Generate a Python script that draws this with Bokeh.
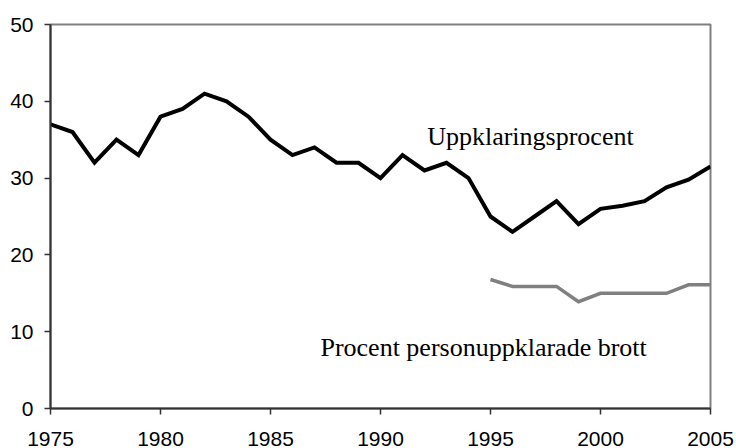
from bokeh.plotting import figure
from bokeh.models import Range1d, FixedTicker
from bokeh.core.properties import value
from bokeh.embed import file_html
from bokeh.resources import INLINE

years = list(range(1975, 2006))
uppklaring = [37, 36, 32, 35, 33, 38, 39, 41, 40, 38,
              35, 33, 34, 32, 32, 30, 33, 31, 32, 30,
              25, 23, 25, 27, 24, 26, 26.4, 27, 28.8, 29.8, 31.5]
years_person = list(range(1995, 2006))
person = [16.8, 15.9, 15.9, 15.9, 13.9, 15.0, 15.0, 15.0, 15.0, 16.1, 16.1]
x_ticks = [1975, 1980, 1985, 1990, 1995, 2000, 2005]
y_ticks = [0, 10, 20, 30, 40, 50]
label_texts = ["Uppklaringsprocent", "Procent personuppklarade brott"]

p = figure(width=736, height=448, output_backend="svg", toolbar_location=None,
           x_range=Range1d(1975, 2005), y_range=Range1d(0, 50),
           min_border_left=50, min_border_top=24, min_border_right=26,
           min_border_bottom=39)
p.xgrid.visible = False
p.ygrid.visible = False
p.outline_line_color = "#808080"
p.outline_line_width = 2
p.background_fill_color = "white"
p.border_fill_color = "white"

for ax in (p.xaxis[0], p.yaxis[0]):
    ax.axis_line_color = "#333333"
    ax.axis_line_width = 2
    ax.major_tick_line_color = "#333333"
    ax.major_tick_line_width = 1.5
    ax.major_tick_out = 6
    ax.major_tick_in = 0
    ax.minor_tick_line_color = None
    ax.major_label_text_font = "Liberation Sans"
    ax.major_label_text_font_size = "21px"
    ax.major_label_text_color = "black"

p.xaxis.ticker = FixedTicker(ticks=x_ticks)
p.yaxis.ticker = FixedTicker(ticks=y_ticks)
p.xaxis.major_label_standoff = 17
p.yaxis.major_label_standoff = 11

p.line(years, uppklaring, line_color="black", line_width=4, line_join="miter")
p.line(years_person, person, line_color="#808080", line_width=3.5, line_join="miter")

p.text(x=[1992.12, 1987.27], y=[35.4, 8.0], text=label_texts,
       text_font=value("Liberation Serif"), text_font_size="26px",
       text_color="black", text_baseline="alphabetic", text_align="left")

open("out.html", "w").write(file_html(p, INLINE))
